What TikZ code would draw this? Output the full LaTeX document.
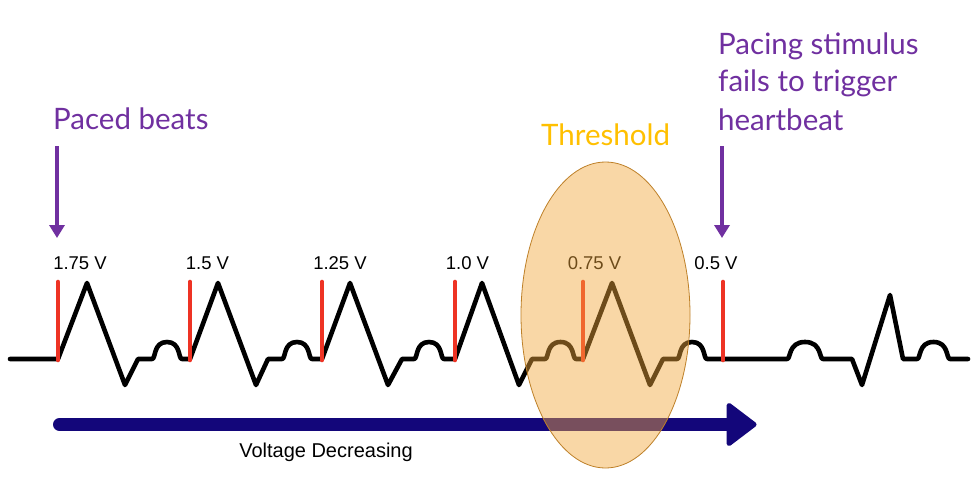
\documentclass[tikz,border=0pt]{standalone}
\usepackage{fontspec}
\setmainfont{Liberation Sans}
\newfontfamily\gillfont{Lato}
\usetikzlibrary{arrows.meta}
\definecolor{pur}{RGB}{112,48,160}
\definecolor{goldc}{RGB}{255,192,0}
\definecolor{redl}{RGB}{238,51,36}
\definecolor{navyc}{RGB}{19,6,122}
\definecolor{orfill}{RGB}{243,168,59}
\definecolor{oredge}{RGB}{190,128,40}
\tikzset{
  vlabel/.style={anchor=base,inner sep=0pt,font=\fontsize{18.5}{20}\selectfont},
  purtext/.style={anchor=base west,inner sep=0pt,text=pur,font=\gillfont\fontsize{29.5}{36}\selectfont},
  wave/.style={line width=4.6pt,line join=round,line cap=round,black},
  stim/.style={line width=4.6pt,line cap=round,redl},
  purarrow/.style={line width=4pt,pur,-{Triangle[width=15pt,length=13pt]}},
}
\newcommand{\bmp}[2]{.. controls (#1+4,359) and (#1+1,342) .. (#1+#2/2,342) .. controls (#1+#2-1,342) and (#1+#2-4,359) .. (#1+#2,359)}
\begin{document}
\begin{tikzpicture}[x=1pt,y=-1pt]
\useasboundingbox (0,0) rectangle (977,487);
\fill[white] (0,0) rectangle (977,487);

% titles
\node[purtext] (paced) at (53,129) {Paced beats};
\node[purtext] (fail1) at (718,55) {Pacing stimulus};
\node[purtext] (fail2) at (718,92) {fails to trigger};
\node[purtext] (fail3) at (718,130) {heartbeat};
\node[purtext,text=goldc] (thr) at (541,145) {Threshold};

% purple arrows
\coordinate (pa1) at (57,146);
\coordinate (pa2) at (57,238);
\coordinate (pb1) at (722,146);
\coordinate (pb2) at (722,238);
\draw[purarrow] (pa1) -- (pa2);
\draw[purarrow] (pb1) -- (pb2);

% voltage labels
\node[vlabel] (v1) at (80,269) {1.75 V};
\node[vlabel] (v2) at (207.5,269) {1.5 V};
\node[vlabel] (v3) at (340,269) {1.25 V};
\node[vlabel] (v4) at (467.5,269) {1.0 V};
\node[vlabel] (v5) at (594.5,269) {0.75 V};
\node[vlabel] (v6) at (716,269) {0.5 V};

% waveform
\draw[wave] (10,359) -- (58,359) -- (87,283) -- (125,385) -- (138,359) -- (152,359)
  \bmp{152}{30} -- (190,359) -- (218,283) -- (256,385) -- (268,359) -- (282,359)
  \bmp{282}{30} -- (322,359) -- (350,283) -- (388,385) -- (402,359) -- (414,359)
  \bmp{414}{30} -- (455,359) -- (482,283) -- (519,385) -- (532,359) -- (545,359)
  \bmp{545}{31} -- (583,359) -- (612,283) -- (650,385) -- (663,359) -- (677,359)
  \bmp{677}{30} -- (787,359)
  \bmp{787}{36} -- (852,359) -- (862,385) -- (890,295) -- (903,359) -- (917,359)
  \bmp{917}{33} -- (968,359);

% stimuli
\foreach \sx in {58,190,322,455,583,723}{
  \draw[stim] (\sx,282) -- (\sx,360);
}

% voltage decreasing arrow
\coordinate (ba1) at (59.5,424.5);
\coordinate (ba2) at (728,424.5);
\draw[navyc,line width=13pt,line cap=round] (ba1) -- (ba2);
\draw[navyc,fill=navyc,line width=5pt,line join=round] (729,405.5) -- (754,424.5) -- (729,443.5) -- cycle;
\node[anchor=base,inner sep=0pt,font=\fontsize{20}{22}\selectfont] (vd) at (326,457) {Voltage Decreasing};

% threshold ellipse
\fill[orfill,opacity=0.45] (605.5,315) ellipse [x radius=84.5pt, y radius=153pt];
\draw[oredge,line width=0.8pt] (605.5,315) ellipse [x radius=84.5pt, y radius=153pt];
\end{tikzpicture}
\end{document}
